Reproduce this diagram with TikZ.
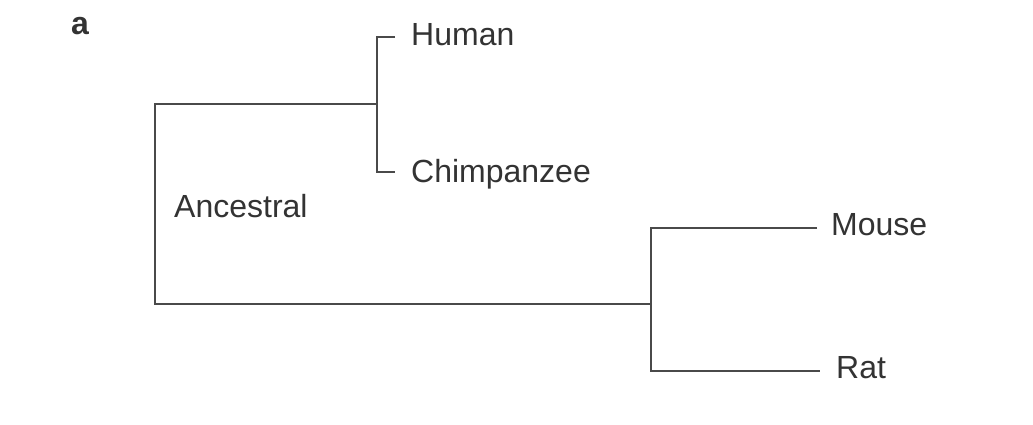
\documentclass[tikz,border=0pt]{standalone}
\usepackage{fontspec}
\setmainfont{Liberation Sans}
\definecolor{linegray}{HTML}{4A4A4A}
\definecolor{textgray}{HTML}{333333}
\begin{document}
\begin{tikzpicture}[x=1pt,y=-1pt,
  branch/.style={draw=linegray,line width=2pt},
  taxon/.style={anchor=base west,inner sep=0pt,text=textgray,font=\fontsize{32}{32}\selectfont}]
\useasboundingbox[fill=white] (0,0) rectangle (1033,425);
% labels
\node[anchor=base west,inner sep=0pt,text=textgray,font=\fontsize{32}{32}\selectfont\bfseries] (lab) at (71,35) {a};
\node[taxon] (human) at (411,46) {Human};
\node[taxon] (chimp) at (411,182) {Chimpanzee};
\node[taxon] (anc) at (174,217) {Ancestral};
\node[taxon] (mouse) at (831,235) {Mouse};
\node[taxon] (rat) at (836,378) {Rat};
% internal coordinates
\coordinate (root) at (155,104);
\coordinate (rootb) at (155,304);
\coordinate (hc) at (377,104);
\coordinate (hcT) at (377,37);
\coordinate (hcB) at (377,172);
\coordinate (hT) at (395,37);
\coordinate (cB) at (395,172);
\coordinate (mr) at (651,304);
\coordinate (mrT) at (651,228);
\coordinate (mrB) at (651,371);
\coordinate (mE) at (817,228);
\coordinate (rE) at (820,371);
% branches
\draw[branch] (hc) -- (root) -- (rootb) -- (mr);
\draw[branch] (hT) -- (hcT) -- (hcB) -- (cB);
\draw[branch] (mE) -- (mrT) -- (mrB) -- (rE);
\end{tikzpicture}
\end{document}
